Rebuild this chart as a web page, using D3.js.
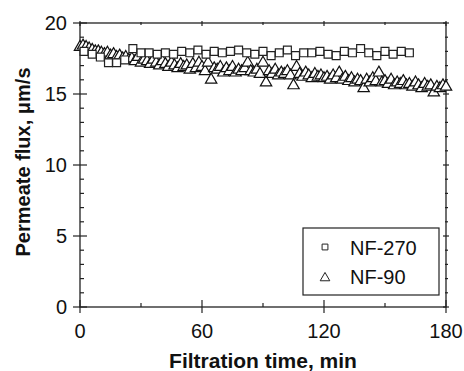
<!DOCTYPE html>
<html>
<head>
<meta charset="utf-8">
<script src="https://cdn.jsdelivr.net/npm/d3@7"></script>
<style>
  body { margin: 0; background: #fff; }
  svg text { font-family: "Liberation Sans", Arial, sans-serif; fill: #111; }
</style>
</head>
<body>
<div id="chart"></div>
<script>
"use strict";

// NF-270 (squares), every 4 min
var nf270Time = [2, 6, 10, 14, 18, 22, 26, 30, 34, 38, 42, 46, 50, 54, 58, 62, 66, 70, 74, 78,
    82, 86, 90, 94, 98, 102, 106, 110, 114, 118, 122, 126, 130, 134, 138, 142, 146, 150, 154, 158, 162];
var nf270Flux = [18.0, 17.8, 17.6, 17.2, 17.2, 17.4, 18.2, 17.9, 17.9, 17.8, 17.9, 17.8, 18.0, 17.9, 18.1, 17.8, 18.0, 17.9, 18.0, 18.1,
    17.9, 17.8, 18.0, 17.7, 17.9, 18.1, 17.7, 17.9, 17.9, 18.0, 17.8, 17.7, 18.0, 17.9, 18.2, 17.9, 17.7, 18.0, 17.8, 18.0, 17.9];

// NF-90 (triangles), every 1.5 min
var nf90Time = d3.range(0, 180.1, 1.5);
var nf90Flux = [
    18.3, 18.4, 18.3, 18.2, 18.1, 18.0, 18.0, 17.9, 17.8, 17.9, 17.7, 17.8, 17.6, 17.7,
    17.5, 17.6, 17.4, 17.5, 17.3, 17.6, 17.2, 17.4, 17.3, 17.1, 17.4, 17.2, 17.0,
    17.3, 17.1, 16.9, 17.2, 17.0, 16.8, 17.1, 16.9, 17.0, 16.7, 17.1, 16.8, 17.2, 16.9,
    16.6, 17.2, 16.0, 16.8, 16.7, 16.9, 16.5, 16.8, 16.6, 16.9, 16.5, 16.7, 16.6,
    16.8, 17.2, 16.6, 16.5, 16.7, 16.4, 17.2, 15.8, 16.6, 16.4, 16.7, 16.3, 16.5,
    16.4, 16.6, 16.3, 15.6, 16.9, 16.4, 16.2, 16.5, 16.3, 16.1, 16.4, 16.2, 16.3, 16.1,
    16.2, 16.0, 16.3, 16.1, 16.5, 16.0, 16.2, 15.9, 16.1, 15.8, 16.0, 15.9, 15.4,
    16.0, 15.8, 16.1, 15.9, 16.5, 15.8, 15.9, 15.7, 16.0, 15.6, 15.8, 15.7, 15.9,
    15.6, 15.7, 15.5, 15.8, 15.6, 15.4, 15.7, 15.5, 15.6, 15.1, 15.5, 15.4, 15.6, 15.5
];

var xTicks = [0, 60, 120, 180];
var xMinor = [30, 90, 150];
var yTicks = [0, 5, 10, 15, 20];
var yMinor = [1, 2, 3, 4, 6, 7, 8, 9, 11, 12, 13, 14, 16, 17, 18, 19];
var seriesNames = ["NF-270", "NF-90"];

var width = 464, height = 371;
var plot = { left: 80, top: 23, right: 446, bottom: 307 };

var svg = d3.select("#chart").append("svg")
    .attr("width", width)
    .attr("height", height);

var xScale = d3.scaleLinear().domain([0, 180]).range([plot.left, plot.right]);
var yScale = d3.scaleLinear().domain([0, 20]).range([plot.bottom, plot.top]);

var axisColor = "#222";

// frame
svg.append("rect")
    .attr("x", plot.left).attr("y", plot.top)
    .attr("width", plot.right - plot.left)
    .attr("height", plot.bottom - plot.top)
    .attr("fill", "none")
    .attr("stroke", axisColor)
    .attr("stroke-width", 1.3);

var ticks = svg.append("g").attr("stroke", axisColor).attr("stroke-width", 1.2);

// x ticks bottom & top
xTicks.forEach(function (t) {
    var x = xScale(t);
    ticks.append("line").attr("x1", x).attr("x2", x).attr("y1", plot.bottom - 7).attr("y2", plot.bottom + 6);
    ticks.append("line").attr("x1", x).attr("x2", x).attr("y1", plot.top - 2).attr("y2", plot.top + 3);
});
xMinor.forEach(function (t) {
    var x = xScale(t);
    ticks.append("line").attr("x1", x).attr("x2", x).attr("y1", plot.bottom - 4).attr("y2", plot.bottom);
    ticks.append("line").attr("x1", x).attr("x2", x).attr("y1", plot.top - 1).attr("y2", plot.top + 2);
});
// y ticks left & right
yTicks.forEach(function (v) {
    var y = yScale(v);
    ticks.append("line").attr("x1", plot.left - 7).attr("x2", plot.left + 7).attr("y1", y).attr("y2", y);
    ticks.append("line").attr("x1", plot.right - 3).attr("x2", plot.right + 3).attr("y1", y).attr("y2", y);
});
yMinor.forEach(function (v) {
    var y = yScale(v);
    ticks.append("line").attr("x1", plot.left).attr("x2", plot.left + 4).attr("y1", y).attr("y2", y);
    ticks.append("line").attr("x1", plot.right - 1).attr("x2", plot.right + 2).attr("y1", y).attr("y2", y);
});

// tick labels
svg.append("g").selectAll("text").data(xTicks).enter().append("text")
    .attr("x", function (d) { return xScale(d); })
    .attr("y", 338)
    .attr("text-anchor", "middle")
    .attr("font-size", 20)
    .text(function (d) { return d; });

svg.append("g").selectAll("text").data(yTicks).enter().append("text")
    .attr("x", 67)
    .attr("y", function (d) { return yScale(d) + 7; })
    .attr("text-anchor", "end")
    .attr("font-size", 20)
    .text(function (d) { return d; });

// axis titles
svg.append("text")
    .attr("x", 263).attr("y", 368)
    .attr("text-anchor", "middle")
    .attr("font-size", 21).attr("font-weight", "bold")
    .text("Filtration time, min");

svg.append("text")
    .attr("transform", "translate(30,162) rotate(-90)")
    .attr("text-anchor", "middle")
    .attr("font-size", 20).attr("font-weight", "bold")
    .text("Permeate flux, \u03bcm/s");

// markers
var tri = d3.symbol().type(d3.symbolTriangle).size(56);
var sq = d3.symbol().type(d3.symbolSquare).size(62);

var nf90 = nf90Time.map(function (t, i) { return { t: t, v: nf90Flux[i] }; });
var nf270 = nf270Time.map(function (t, i) { return { t: t, v: nf270Flux[i] }; });

svg.append("g").selectAll("path").data(nf90).enter().append("path")
    .attr("d", tri)
    .attr("transform", function (d) { return "translate(" + xScale(d.t) + "," + yScale(d.v) + ")"; })
    .attr("fill", "#fff")
    .attr("stroke", "#111")
    .attr("stroke-width", 1.2);

svg.append("g").selectAll("path").data(nf270).enter().append("path")
    .attr("d", sq)
    .attr("transform", function (d) { return "translate(" + xScale(d.t) + "," + yScale(d.v) + ")"; })
    .attr("fill", "#fff")
    .attr("stroke", "#222")
    .attr("stroke-width", 1.2);

// legend
var legend = svg.append("g");
legend.append("rect")
    .attr("x", 303).attr("y", 228)
    .attr("width", 136).attr("height", 67)
    .attr("fill", "#fff")
    .attr("stroke", axisColor)
    .attr("stroke-width", 1.2);

legend.append("path")
    .attr("d", d3.symbol().type(d3.symbolSquare).size(34))
    .attr("transform", "translate(325,247)")
    .attr("fill", "#fff").attr("stroke", "#222").attr("stroke-width", 1);
legend.append("path")
    .attr("d", d3.symbol().type(d3.symbolTriangle).size(40))
    .attr("transform", "translate(325,278)")
    .attr("fill", "#fff").attr("stroke", "#222").attr("stroke-width", 1);

legend.selectAll("text.lbl").data(seriesNames).enter().append("text")
    .attr("class", "lbl")
    .attr("x", 350)
    .attr("y", function (d, i) { return 255 + i * 29; })
    .attr("font-size", 20)
    .text(function (d) { return d; });
</script>
</body>
</html>
